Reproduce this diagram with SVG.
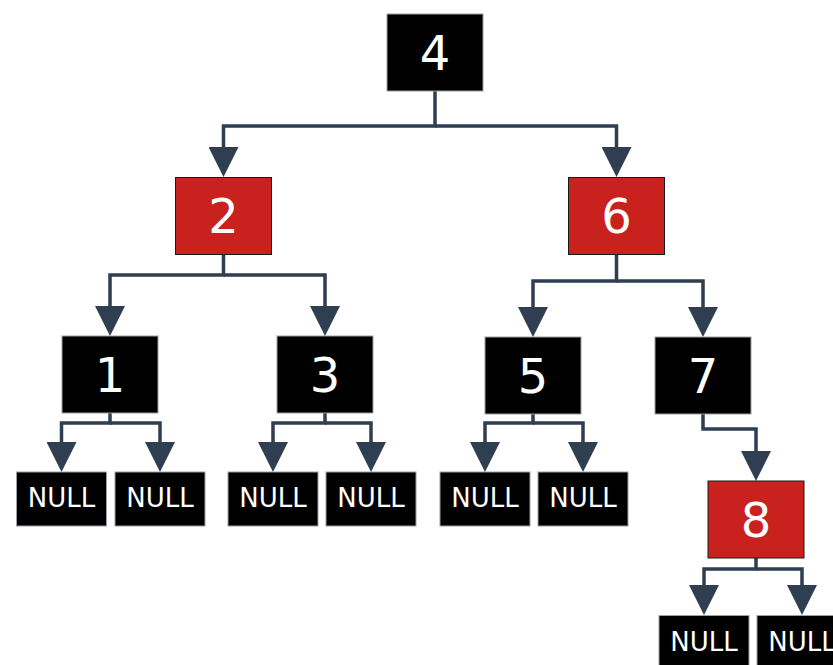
<svg xmlns="http://www.w3.org/2000/svg" width="833" height="665" viewBox="0 0 833 665">
  <defs>
    <marker id="arrow" markerUnits="userSpaceOnUse" viewBox="0 0 30 30" markerWidth="30" markerHeight="30" refX="26" refY="15" orient="auto">
      <path d="M0,0 L30,15 L0,30 Z" fill="#2f3e50"/>
    </marker>
  </defs>
  <style>
    .black { fill: #000; stroke: #9aa0a6; stroke-width: 1; }
    .red { fill: #c8211e; stroke: #1a1a1a; stroke-width: 1; }
    .num { font-family: "DejaVu Sans", sans-serif; font-size: 48px; fill: #fff; text-anchor: middle; dominant-baseline: central; }
    .nil { font-family: "DejaVu Sans", sans-serif; font-size: 26px; fill: #fff; text-anchor: middle; dominant-baseline: central; }
    .edge { fill: none; stroke: #2f3e50; stroke-width: 3.5; stroke-linejoin: miter; marker-end: url(#arrow); }
  </style>

  <g id="connectors">
    <path class="edge" d="M435,91 V126 H223.5 V173"/>
    <path class="edge" d="M435,126 H616.5 V173"/>
    <path class="edge" d="M223.5,254.5 V275 H110 V332"/>
    <path class="edge" d="M223.5,275 H325 V332"/>
    <path class="edge" d="M616.5,254.5 V281 H533 V333"/>
    <path class="edge" d="M616.5,281 H703 V333"/>
    <path class="edge" d="M110,413 V423 H61.5 V468"/>
    <path class="edge" d="M110,423 H160 V468"/>
    <path class="edge" d="M325,413 V423 H273 V468"/>
    <path class="edge" d="M325,423 H371 V468"/>
    <path class="edge" d="M533,414 V423 H485 V468"/>
    <path class="edge" d="M533,423 H583 V468"/>
    <path class="edge" d="M703,414 V429 H756 V477"/>
    <path class="edge" d="M756,558 V569 H704 V611"/>
    <path class="edge" d="M756,569 H802 V611"/>
  </g>

  <g id="n4"><rect class="black" x="387" y="14" width="96" height="77"/><text class="num" x="435" y="52.5">4</text></g>
  <g id="n2"><rect class="red" x="175.5" y="177.5" width="96" height="77"/><text class="num" x="223.5" y="216">2</text></g>
  <g id="n6"><rect class="red" x="568.5" y="177.5" width="96" height="77"/><text class="num" x="616.5" y="216">6</text></g>
  <g id="n1"><rect class="black" x="62" y="336" width="96" height="77"/><text class="num" x="110" y="374.5">1</text></g>
  <g id="n3"><rect class="black" x="277" y="336" width="96" height="77"/><text class="num" x="325" y="374.5">3</text></g>
  <g id="n5"><rect class="black" x="485" y="337" width="96" height="77"/><text class="num" x="533" y="375.5">5</text></g>
  <g id="n7"><rect class="black" x="655" y="337" width="96" height="77"/><text class="num" x="703" y="375.5">7</text></g>
  <g id="n8"><rect class="red" x="708" y="481" width="96" height="77"/><text class="num" x="756" y="519.5">8</text></g>

  <g id="null1l"><rect class="black" x="16.5" y="472" width="90" height="54"/><text class="nil" x="61.5" y="498">NULL</text></g>
  <g id="null1r"><rect class="black" x="115" y="472" width="90" height="54"/><text class="nil" x="160" y="498">NULL</text></g>
  <g id="null3l"><rect class="black" x="228" y="472" width="90" height="54"/><text class="nil" x="273" y="498">NULL</text></g>
  <g id="null3r"><rect class="black" x="326" y="472" width="90" height="54"/><text class="nil" x="371" y="498">NULL</text></g>
  <g id="null5l"><rect class="black" x="440" y="472" width="90" height="54"/><text class="nil" x="485" y="498">NULL</text></g>
  <g id="null5r"><rect class="black" x="538" y="472" width="90" height="54"/><text class="nil" x="583" y="498">NULL</text></g>
  <g id="null8l"><rect class="black" x="659" y="615.5" width="90" height="54"/><text class="nil" x="704" y="641.5">NULL</text></g>
  <g id="null8r"><rect class="black" x="757" y="615.5" width="90" height="54"/><text class="nil" x="802" y="641.5">NULL</text></g>
</svg>
